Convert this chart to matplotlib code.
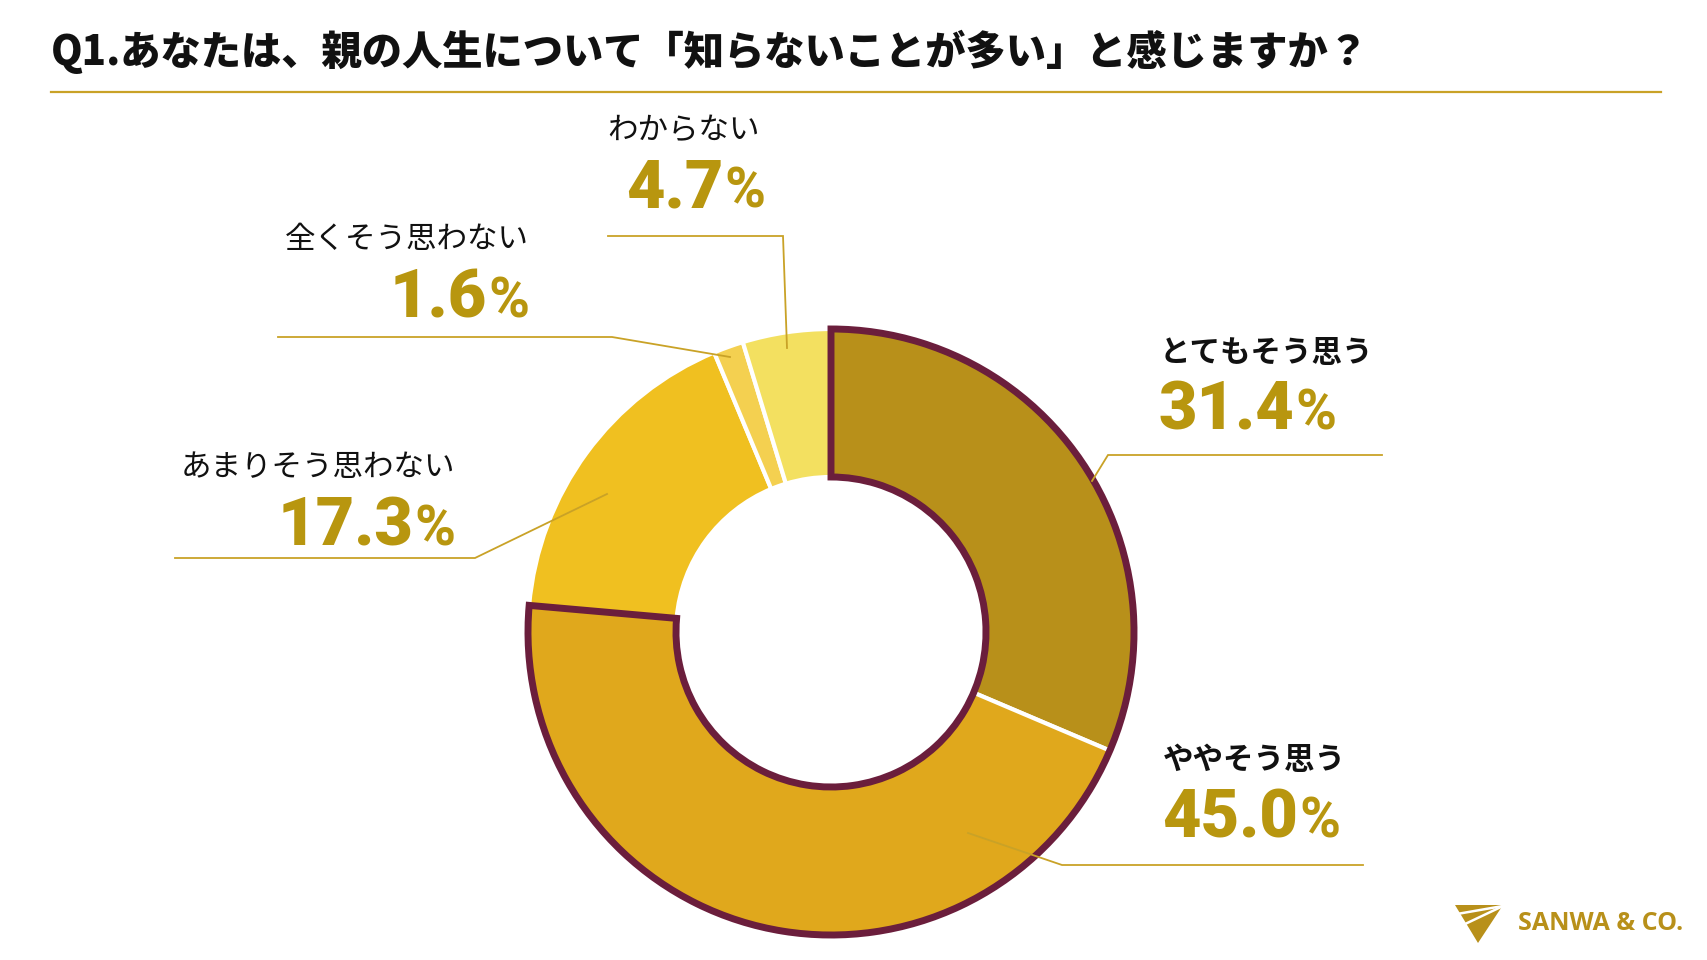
import matplotlib
matplotlib.use('Agg')
import matplotlib.pyplot as plt
from matplotlib.patches import Wedge, Polygon
import numpy as np

plt.rcParams['font.family'] = ['Noto Sans CJK JP', 'DejaVu Sans']

# ---- data ----
categories = ['とてもそう思う', 'ややそう思う', 'あまりそう思わない', '全くそう思わない', 'わからない']
values = [31.4, 45.0, 17.3, 1.6, 4.7]
highlight = [True, True, False, False, False]
title = 'Q1.あなたは、親の人生について「知らないことが多い」と感じますか？'
brand = 'SANWA & CO.'

# ---- style ----
colors = ['#B8901A', '#E0A81C', '#F0C020', '#F4D050', '#F3E060']
MAROON = '#6B1E3C'
GOLD = '#B8960F'
LINE = '#C9A227'
NUMFONT = ['Roboto', 'DejaVu Sans']

W, H = 1707, 960
fig = plt.figure(figsize=(W / 100, H / 100), dpi=100)
ax = fig.add_axes([0, 0, 1, 1])

cx, cy, R, wd = 831, H - 632, 303, 148
ax.pie(values, colors=colors, startangle=90, counterclock=False, radius=R,
       center=(cx, cy), wedgeprops=dict(width=wd, edgecolor='white', linewidth=3))
ax.set_xlim(0, W)
ax.set_ylim(0, H)
ax.set_aspect('equal')
ax.axis('off')

# outline around highlighted (contiguous) slices
ang = 90 - np.cumsum([0] + values) * 3.6
idx = [i for i, h in enumerate(highlight) if h]
t_end = ang[idx[0]]
t_start = ang[idx[-1] + 1]
ax.add_patch(Wedge((cx, cy), R, t_start, t_end, width=wd, fill=False,
                   edgecolor=MAROON, linewidth=5, joinstyle='miter', zorder=5))

# title + rule
ax.text(51, H - 52, title, ha='left', va='center', fontsize=29, fontweight='heavy', color='#111111')
ax.plot([51, 1661], [H - 92, H - 92], color=LINE, lw=1.6)

# label layout (pixel positions, top-left origin)
layout = [
    dict(lx=1160, ly=353, ha='left', px=1158, pb=430, lead=[(1092, 481), (1108, 455), (1382, 455)]),
    dict(lx=1163, ly=760, ha='left', px=1162, pb=837, lead=[(968, 833), (1062, 865), (1363, 865)]),
    dict(lx=455, ly=467, ha='right', px=455, pb=545, lead=[(607, 494), (475, 558), (175, 558)]),
    dict(lx=529, ly=240, ha='right', px=529, pb=318, lead=[(730, 357), (612, 337), (278, 337)]),
    dict(lx=607, ly=130, ha='left', px=626, pb=207, lead=[(787, 348), (783, 236), (608, 236)]),
]

renderer = fig.canvas.get_renderer()
inv = ax.transData.inverted()
NS, PS = 48, 40

for cat, val, hl, L in zip(categories, values, highlight, layout):
    ax.text(L['lx'], H - L['ly'], cat, ha=L['ha'], va='center', fontsize=22,
            fontweight='bold' if hl else 'normal', color='#111111')
    num = f'{val:.1f}'
    yb = H - L['pb']
    if L['ha'] == 'left':
        t = ax.text(L['px'], yb, num, ha='left', va='baseline', fontsize=NS, fontweight='black',
                    color=GOLD, family=NUMFONT)
        bb = t.get_window_extent(renderer)
        x1 = inv.transform((bb.x1, bb.y0))[0]
        ax.text(x1 + 1, yb, '%', ha='left', va='baseline', fontsize=PS, fontweight='bold',
                color=GOLD, family=NUMFONT)
    else:
        p = ax.text(L['px'], yb, '%', ha='right', va='baseline', fontsize=PS, fontweight='bold',
                    color=GOLD, family=NUMFONT)
        bb = p.get_window_extent(renderer)
        x0 = inv.transform((bb.x0, bb.y0))[0]
        ax.text(x0 - 1, yb, num, ha='right', va='baseline', fontsize=NS, fontweight='black',
                color=GOLD, family=NUMFONT)
    xs = [pt[0] for pt in L['lead']]
    ys = [H - pt[1] for pt in L['lead']]
    ax.plot(xs, ys, color=LINE, lw=1.3, zorder=6, solid_joinstyle='miter')

# logo
ax.add_patch(Polygon([(1455, H - 905), (1503, H - 905), (1478, H - 943)], closed=True,
                     facecolor='#B8901A', edgecolor='none'))
ax.plot([1503, 1457], [H - 906, H - 914], color='white', lw=1.8)
ax.plot([1503, 1463], [H - 906, H - 925], color='white', lw=1.8)
ax.text(1518, H - 924, brand, ha='left', va='center', fontsize=18, fontweight='bold',
        color='#B8901A', family=['Open Sans', 'DejaVu Sans'])

fig.savefig('out.png', dpi=100, facecolor='white')
